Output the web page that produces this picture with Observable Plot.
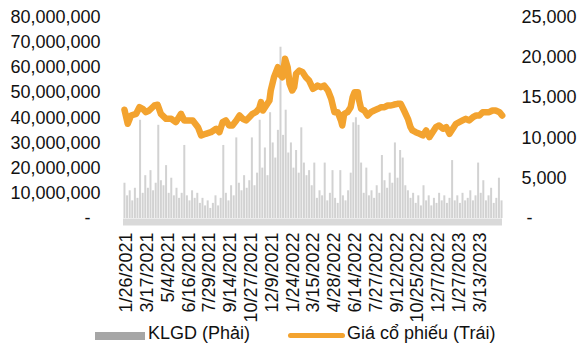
<!DOCTYPE html>
<html><head><meta charset="utf-8">
<script src="https://cdn.jsdelivr.net/npm/d3@7"></script>
<script src="https://cdn.jsdelivr.net/npm/@observablehq/plot@0.6"></script>
<style>
body{margin:0;background:#fff;font-family:"Liberation Sans",Arial,sans-serif;}
#wrap{position:relative;width:579px;height:343px;overflow:hidden;background:#fff;}
.lg{position:absolute;font-size:18px;line-height:18px;color:#111;white-space:nowrap;}
.sw{position:absolute;}
</style></head><body>
<div id="wrap"><div id="chart"></div>
<div class="sw" style="left:95px;top:332px;width:50px;height:8px;background:#a6a6a6"></div>
<div class="lg" style="left:148px;top:324px">KLGD (Phải)</div>
<div class="sw" style="left:288px;top:333px;width:57px;height:5px;border-radius:3px;background:#f3a32f"></div>
<div class="lg" style="left:347px;top:324px">Giá cổ phiếu (Trái)</div>
</div>
<script>
// x-axis category labels (every 32nd trading day)
const tickLabels = ["1/26/2021","3/17/2021","5/4/2021","6/16/2021","7/29/2021","9/14/2021","10/27/2021","12/9/2021","1/24/2022","3/15/2022","4/28/2022","6/14/2022","7/27/2022","9/12/2022","10/25/2022","12/7/2022","1/27/2023","3/13/2023"];
const tickIdx = tickLabels.map((d, i) => i * 32);

// Volume (KLGD), millions of shares, sampled every 4 trading days
const volIdx = d3.range(0, 584, 4);
const volM = [14,9,11,7,12,8,39,10,17,12,19,11,14,37,15,13,21,10,16,9,
  12,8,10,29,9,7,11,8,10,6,8,5,7,4,6,9,5,8,29,10,
  7,13,9,32,14,11,17,12,15,32,13,18,39,20,28,17,42,30,24,35,
  68,33,43,26,30,20,27,18,36,22,17,19,13,22,8,11,9,22,7,10,
  19,8,6,19,9,7,11,18,38,40,37,22,10,20,9,11,8,13,10,25,
  15,12,18,14,30,16,27,24,13,11,8,10,6,9,5,13,7,9,5,8,
  6,10,7,9,6,8,23,7,9,6,10,7,8,11,7,9,22,10,15,7,
  9,12,6,8,16,7];

// Share price (VND), trading-day index / value
const priceIdx = [0,5,10,18,23,28,33,38,46,51,56,64,72,79,87,92,100,105,113,118,125,133,141,146,151,156,161,166,172,177,182,187,192,197,202,207,210,213,218,223,225,230,236,238,243,247,251,254,258,261,264,269,274,279,284,290,294,297,302,307,313,318,323,328,333,335,338,343,348,351,354,359,361,364,369,374,379,384,390,395,400,405,410,415,420,425,430,436,440,443,448,454,459,464,469,474,479,484,490,495,500,505,510,515,520,525,530,536,541,546,551,556,561,566,571,577,581];
const priceVal = [13500,11750,12780,12990,13810,13610,13190,13400,14020,14110,12990,12370,12370,11950,12990,12160,12160,12160,11330,10300,10510,10710,11130,10710,11950,12160,11540,11540,12160,12780,12370,12160,12570,12990,13190,13610,14430,13400,14020,14640,15880,17530,18770,17950,17530,19810,18770,16710,15880,16290,17950,18360,18150,17530,17120,16090,16290,16500,16290,16500,15880,14850,13190,13190,12160,11540,12990,13190,13810,15050,15670,15670,14640,13610,13400,12780,13190,13400,13610,13810,13810,14020,14020,14140,14230,14230,13400,12370,11330,10920,10710,10510,10300,10920,10090,10710,11330,11540,11130,11330,10510,11130,11750,11950,12160,12370,12160,12570,12780,12780,13190,13190,13190,13400,13400,13190,12780];

const volTicks = [0,10e6,20e6,30e6,40e6,50e6,60e6,70e6,80e6];
const priceTicks = [0,5000,10000,15000,20000,25000];
const RATIO = 80e6 / 25000; // left axis max / right axis max

const vol = volIdx.map((i, k) => ({i, v: volM[k] * 1e6}));
const price = priceIdx.map((i, k) => ({i, p: priceVal[k]}));
const fmt = d3.format(",");

const H = 322;
const chart = Plot.plot({
  width: 579, height: H,
  marginLeft: 123, marginRight: 77, marginTop: 16.5, marginBottom: H - 218,
  x: {domain: [-1.5, 581.5], axis: null},
  y: {domain: [0, 25000], axis: null},
  style: {fontFamily: "Liberation Sans, Arial, sans-serif", fontSize: "18px", color: "#111", background: "#fff", overflow: "visible"},
  marks: [
    Plot.ruleY([0], {stroke: "#d9d9d9", strokeWidth: 7, dy: 3.5}),
    Plot.ruleX(vol, {x: "i", y1: 0, y2: d => d.v / RATIO, stroke: "#d2d2d2", strokeWidth: 2}),
    Plot.line(price, {x: "i", y: "p", stroke: "#f3a32f", strokeWidth: 6.5, strokeLinejoin: "round", strokeLinecap: "round"}),
    Plot.axisY(volTicks.map(v => v / RATIO), {anchor: "left", label: null, tickSize: 0, tickPadding: 23, fontSize: 18,
      tickFormat: v => { const r = Math.round(v * RATIO); return r === 0 ? "-\u00a0\u00a0" : fmt(r); }}),
    Plot.axisY(priceTicks, {anchor: "right", label: null, tickSize: 0, tickPadding: 19, fontSize: 18,
      tickFormat: v => v === 0 ? "\u00a0-" : fmt(v)}),
    Plot.axisX(tickIdx, {anchor: "bottom", label: null, tickSize: 0, tickPadding: 14, tickRotate: -90, fontSize: 18, dx: 2,
      tickFormat: d => tickLabels[tickIdx.indexOf(d)]})
  ]
});
document.getElementById("chart").appendChild(chart);
</script>
</body></html>
